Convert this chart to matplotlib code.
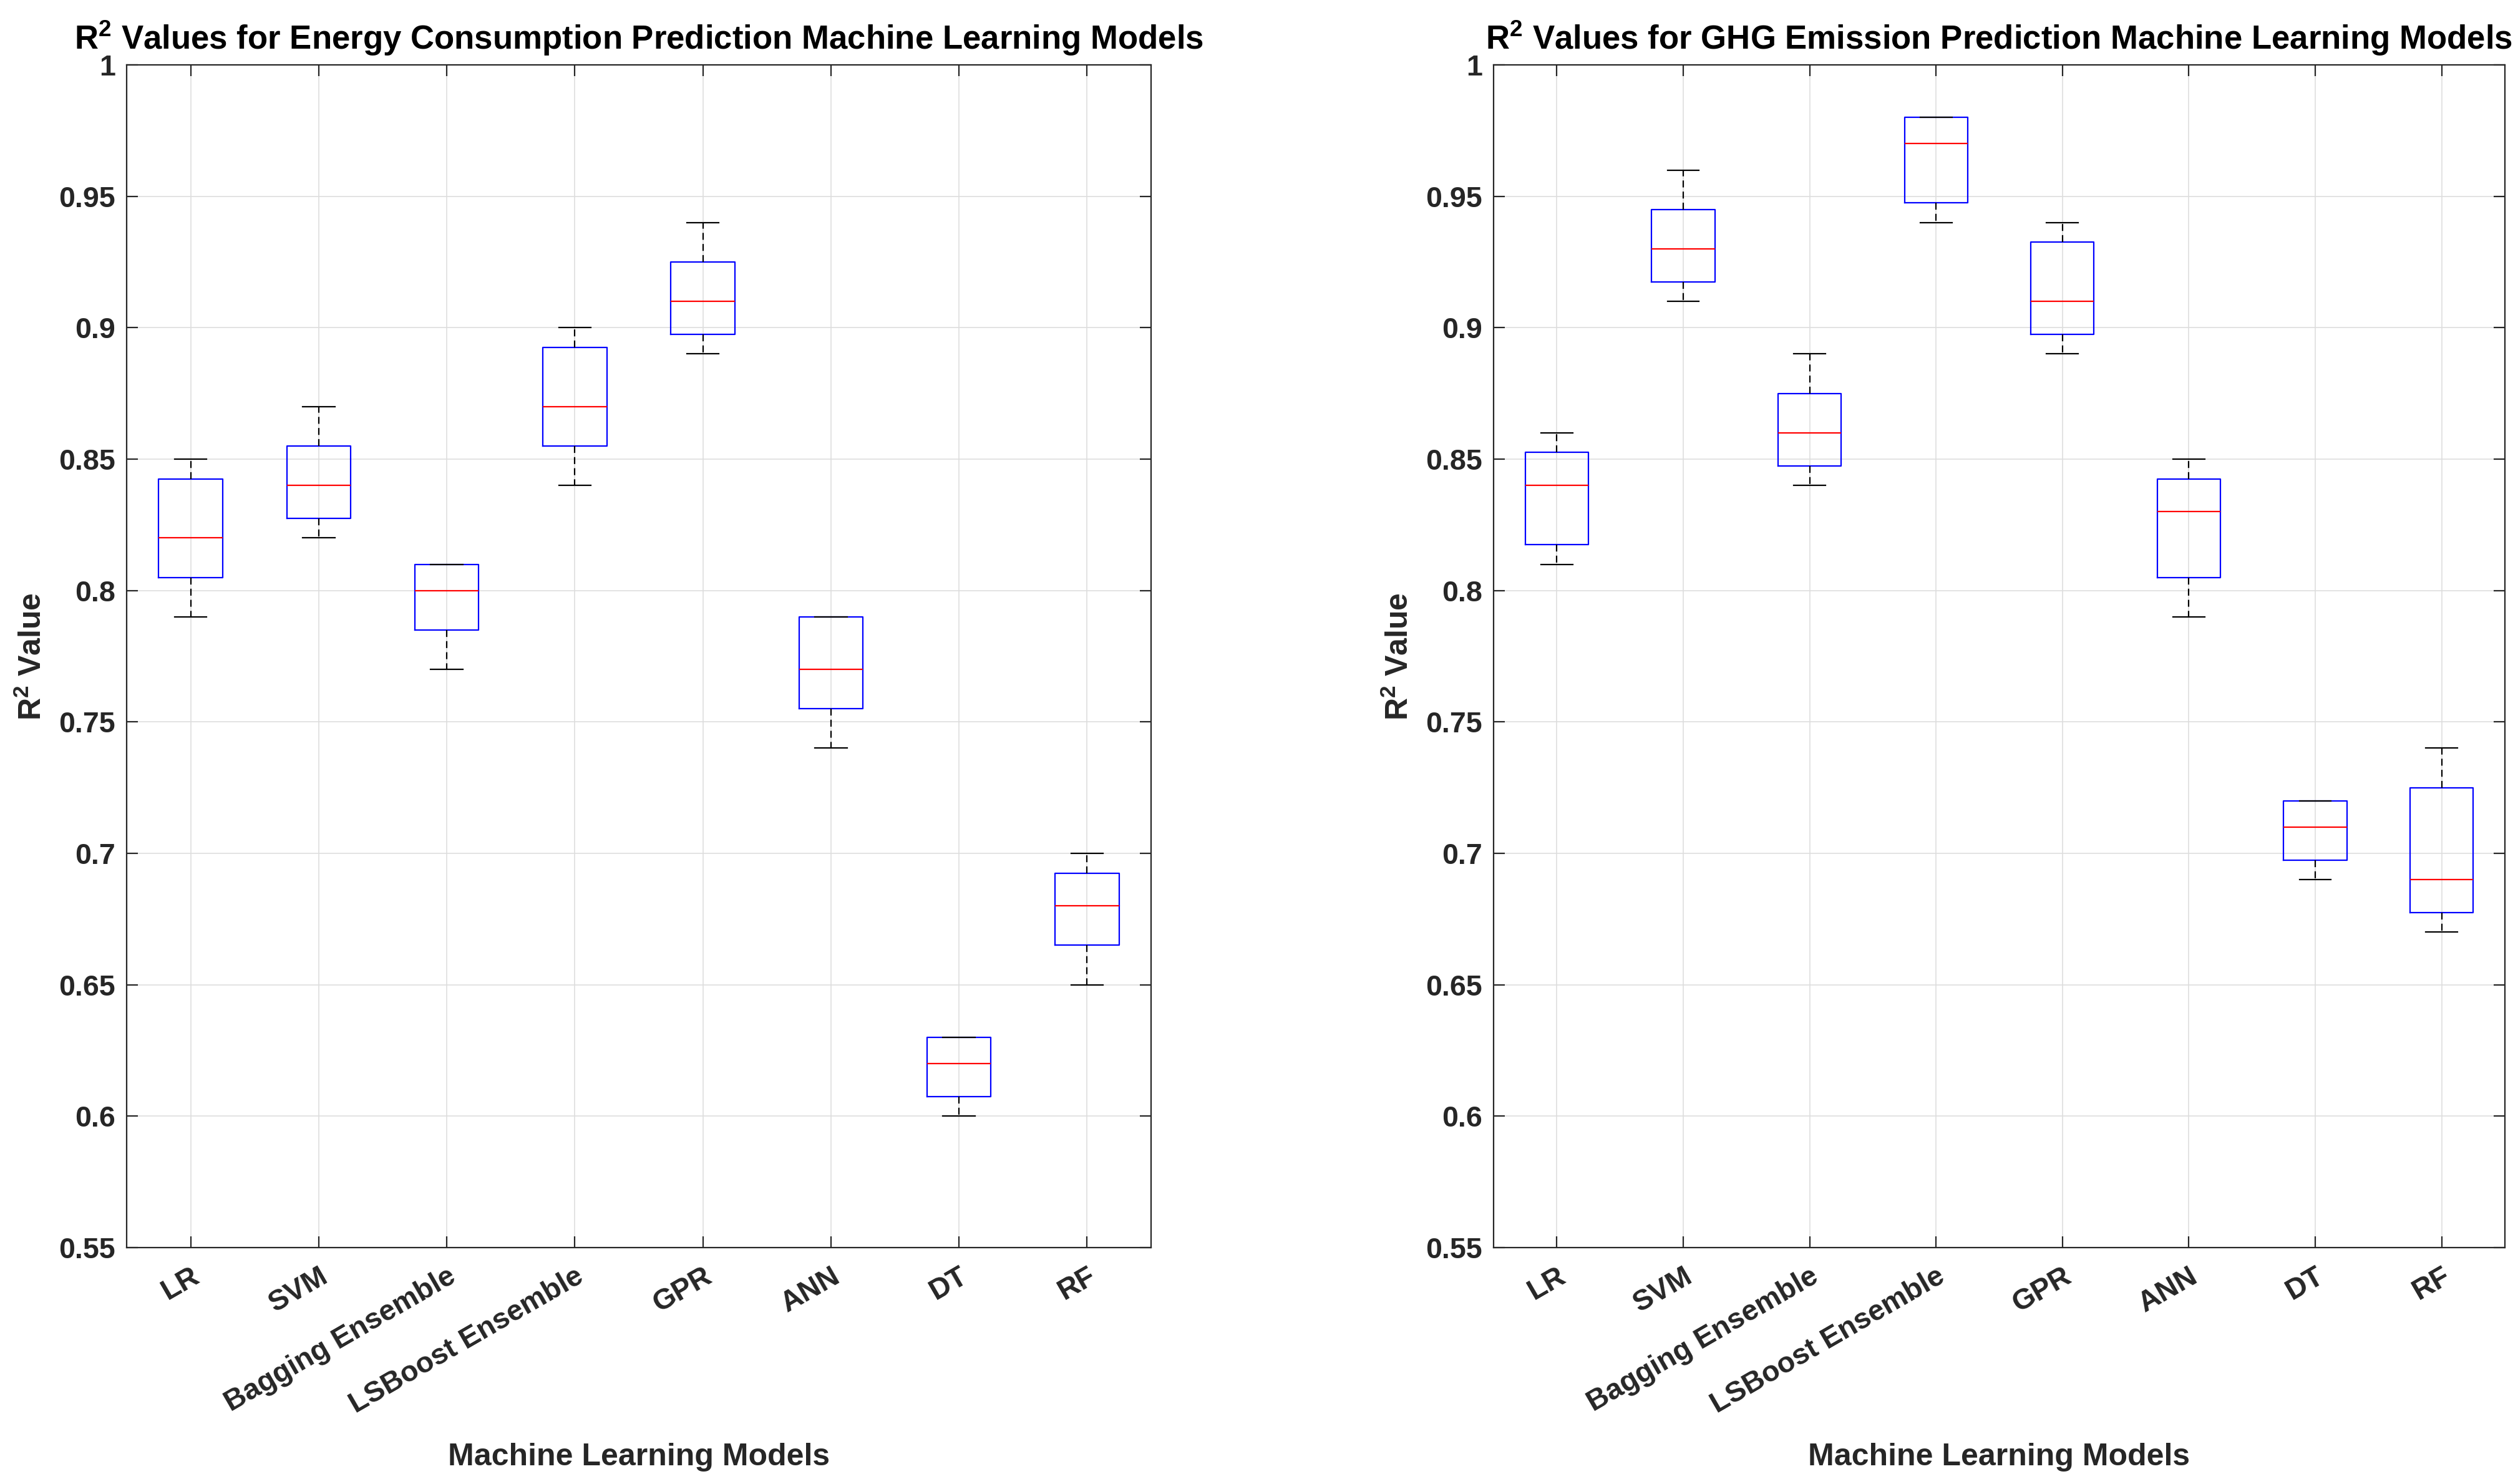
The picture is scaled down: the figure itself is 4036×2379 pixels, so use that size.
import numpy as np
import matplotlib
matplotlib.use("Agg")
import matplotlib.pyplot as plt
from matplotlib.ticker import FuncFormatter, MultipleLocator

plt.rcParams['font.family'] = ['Liberation Sans', 'DejaVu Sans']
plt.rcParams['font.weight'] = 'bold'
plt.rcParams['mathtext.fontset'] = 'custom'
plt.rcParams['mathtext.rm'] = 'Liberation Sans:bold'
plt.rcParams['mathtext.bf'] = 'Liberation Sans:bold'
plt.rcParams['mathtext.it'] = 'Liberation Sans:bold'
plt.rcParams['mathtext.default'] = 'rm'

models = ['LR', 'SVM', 'Bagging Ensemble', 'LSBoost Ensemble', 'GPR', 'ANN', 'DT', 'RF']

# R^2 samples per model (5 runs each)
energy_LR       = [0.79, 0.81, 0.82, 0.84, 0.85]
energy_SVM      = [0.82, 0.83, 0.84, 0.85, 0.87]
energy_Bagging  = [0.77, 0.79, 0.80, 0.81, 0.81]
energy_LSBoost  = [0.84, 0.86, 0.87, 0.89, 0.90]
energy_GPR      = [0.89, 0.90, 0.91, 0.92, 0.94]
energy_ANN      = [0.74, 0.76, 0.77, 0.79, 0.79]
energy_DT       = [0.60, 0.61, 0.62, 0.63, 0.63]
energy_RF       = [0.65, 0.67, 0.68, 0.69, 0.70]

ghg_LR       = [0.81, 0.82, 0.84, 0.85, 0.86]
ghg_SVM      = [0.91, 0.92, 0.93, 0.94, 0.96]
ghg_Bagging  = [0.84, 0.85, 0.86, 0.87, 0.89]
ghg_LSBoost  = [0.94, 0.95, 0.97, 0.98, 0.98]
ghg_GPR      = [0.89, 0.90, 0.91, 0.93, 0.94]
ghg_ANN      = [0.79, 0.81, 0.83, 0.84, 0.85]
ghg_DT       = [0.69, 0.70, 0.71, 0.72, 0.72]
ghg_RF       = [0.67, 0.68, 0.69, 0.72, 0.74]

energy_data = [energy_LR, energy_SVM, energy_Bagging, energy_LSBoost,
               energy_GPR, energy_ANN, energy_DT, energy_RF]
ghg_data = [ghg_LR, ghg_SVM, ghg_Bagging, ghg_LSBoost,
            ghg_GPR, ghg_ANN, ghg_DT, ghg_RF]

titles = ['R$^2$ Values for Energy Consumption Prediction Machine Learning Models',
          'R$^2$ Values for GHG Emission Prediction Machine Learning Models']


def matlab_stats(vals, label):
    v = np.sort(np.asarray(vals, dtype=float))
    q1, med, q3 = np.percentile(v, [25, 50, 75], method='hazen')
    iqr = q3 - q1
    lo = v[v >= q1 - 1.5 * iqr].min()
    hi = v[v <= q3 + 1.5 * iqr].max()
    return dict(med=med, q1=q1, q3=q3, whislo=lo, whishi=hi,
                fliers=[], label=label)


fig = plt.figure(figsize=(4037 / 200, 2379 / 200), dpi=200)
axes_rects = [[203 / 4037, 1 - 2000 / 2379, 1642 / 4037, 1896 / 2379],
              [2394 / 4037, 1 - 2000 / 2379, 1621 / 4037, 1896 / 2379]]

axcol = '#262626'
for rect, data, title in zip(axes_rects, [energy_data, ghg_data], titles):
    ax = fig.add_axes(rect)
    stats = [matlab_stats(d, m) for d, m in zip(data, models)]
    ax.bxp(stats, positions=np.arange(1, len(models) + 1), widths=0.5,
           showfliers=False,
           boxprops=dict(color='#0000ff', linewidth=0.8),
           medianprops=dict(color='#ff0000', linewidth=0.8),
           whiskerprops=dict(color='black', linewidth=0.8, linestyle=(0, (5, 3))),
           capprops=dict(color='black', linewidth=0.8))
    ax.set_xlim(0.5, len(models) + 0.5)
    ax.set_ylim(0.55, 1.0)
    ax.yaxis.set_major_locator(MultipleLocator(0.05))
    ax.yaxis.set_major_formatter(FuncFormatter(lambda y, p: ('%.2f' % y).rstrip('0').rstrip('.')))
    ax.set_xticks(np.arange(1, len(models) + 1))
    ax.set_xticklabels(models, rotation=30, ha='right', va='top',
                       rotation_mode='anchor')
    ax.grid(True, color='#dedede', linewidth=0.6)
    ax.set_axisbelow(True)
    for s in ax.spines.values():
        s.set_color(axcol)
        s.set_linewidth(0.8)
    ax.tick_params(axis='both', direction='in', length=6.5, width=0.8,
                   color=axcol, labelcolor=axcol, labelsize=16.8,
                   top=True, right=True)
    ax.tick_params(axis='x', pad=8.6)
    ax.tick_params(axis='y', pad=6.5)
    for lab in ax.get_xticklabels() + ax.get_yticklabels():
        lab.set_fontweight('bold')
    ax.set_title(title, fontsize=19, fontweight='bold', pad=9, color='black')
    ax.set_xlabel('Machine Learning Models', fontsize=18, fontweight='bold',
                  color=axcol, labelpad=14)
    ax.set_ylabel('R$^2$ Value', fontsize=18, fontweight='bold',
                  color=axcol, labelpad=6.5)

fig.savefig('out.png', dpi=200)
